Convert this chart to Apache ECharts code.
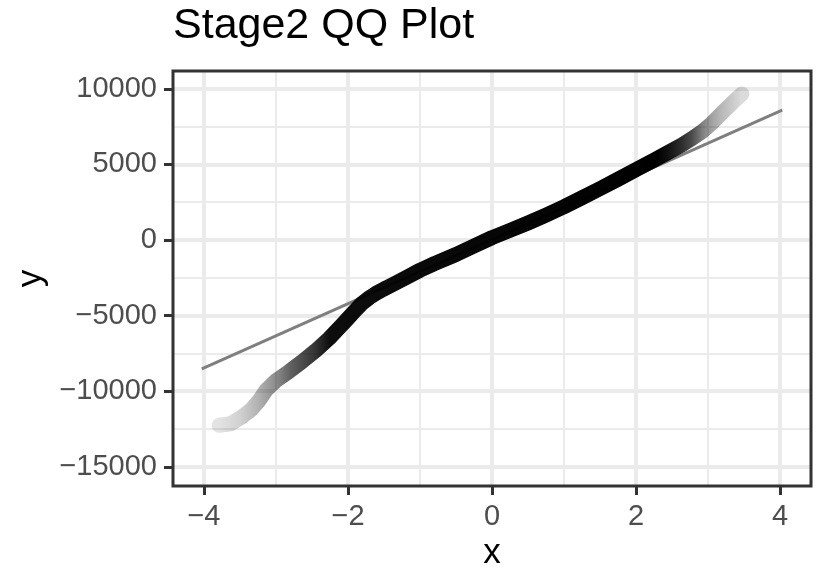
<!DOCTYPE html>
<html>
<head>
<meta charset="utf-8">
<title>Stage2 QQ Plot</title>
<script src="https://cdn.jsdelivr.net/npm/echarts@6/dist/echarts.min.js"></script>
<style>
  html, body { margin: 0; padding: 0; background: #ffffff; }
  #chart { width: 816px; height: 570px; }
</style>
</head>
<body>
<div id="chart"></div>
<script>
// Theoretical normal quantiles and the matching sample quantiles (Stage2 residuals)
const theoretical = [-3.79, -3.63, -3.49, -3.35, -3.24, -3.14, -3.00, -2.82, -2.64, -2.45,
  -2.26, -2.10, -2.00, -1.90, -1.80, -1.70, -1.60, -1.50, -1.40, -1.20,
  -1.00, -0.80, -0.50, -0.25, 0.00, 0.25, 0.50, 0.75, 1.00, 1.25,
  1.50, 1.75, 2.00, 2.25, 2.41, 2.64, 2.78, 2.92, 3.06, 3.19, 3.33, 3.47];
const sample = [-12250, -12150, -11750, -11250, -10650, -9950, -9300, -8700, -8050, -7320,
  -6500, -5700, -5180, -4660, -4170, -3800, -3500, -3240, -3000, -2500,
  -2000, -1560, -960, -400, 160, 640, 1130, 1650, 2200, 2800,
  3400, 4020, 4650, 5280, 5700, 6300, 6720, 7180, 7750, 8380, 9040, 9660];

// Reference line through the quartiles
const refLineX = [-4.03, 4.03];
const refLineY = [-8530, 8600];

// Axis ticks
const xTicks = [-4, -2, 0, 2, 4];
const xMinor = [-3, -1, 1, 3];
const yTicks = [-15000, -10000, -5000, 0, 5000, 10000];
const yMinor = [-12500, -7500, -2500, 2500, 7500];

// How dark the overplotted points look along x (sparse tails are faint)
const shadeX = [-3.8, -3.5, -3.25, -3.0, -2.8, -2.45, -2.25, 2.3, 2.45, 2.64, 2.78, 2.92, 3.06, 3.19, 3.33, 3.47];
const shadeA = [0.11, 0.18, 0.30, 0.45, 0.62, 0.80, 0.95, 1.0, 0.93, 0.82, 0.70, 0.50, 0.36, 0.28, 0.21, 0.14];

const FONT = '"Liberation Sans", Arial, sans-serif';
const fmt = v => (v < 0 ? '\u2212' + Math.abs(v) : String(v));

const chart = echarts.init(document.getElementById('chart'), null, { renderer: 'canvas', width: 816, height: 570 });

const gridLineSeries = (name, xs, ys, width, z) => ({
  name: name,
  type: 'line',
  data: [],
  silent: true,
  z: z,
  markLine: {
    z: z,
    silent: true,
    animation: false,
    symbol: ['none', 'none'],
    label: { show: false },
    emphasis: { disabled: true },
    lineStyle: { color: '#ebebeb', width: width, type: 'solid' },
    data: xs.map(v => ({ xAxis: v })).concat(ys.map(v => ({ yAxis: v })))
  }
});

const option = {
  animation: false,
  backgroundColor: '#ffffff',
  title: {
    text: 'Stage2 QQ Plot',
    left: 173,
    top: 5,
    padding: 0,
    textStyle: { fontFamily: FONT, fontSize: 43, fontWeight: 'normal', color: '#000000' }
  },
  grid: {
    left: 173, top: 71, width: 638, height: 415,
    outerBoundsMode: 'none',
    containLabel: false,
    show: true, borderColor: '#333333', borderWidth: 3,
    backgroundColor: 'transparent', z: 10
  },
  xAxis: {
    type: 'value',
    min: -4.43, max: 4.43,
    axisLine: { show: false, onZero: false },
    splitLine: { show: false },
    axisTick: { show: true, customValues: xTicks, length: 9, lineStyle: { color: '#333333', width: 3 } },
    axisLabel: { customValues: xTicks, formatter: fmt, margin: 16, fontSize: 29, color: '#4d4d4d', fontFamily: FONT },
    name: 'x',
    nameLocation: 'middle',
    nameGap: 50,
    nameTextStyle: { fontSize: 35, color: '#000000', fontFamily: FONT }
  },
  yAxis: {
    type: 'value',
    min: -16270, max: 11180,
    axisLine: { show: false, onZero: false },
    splitLine: { show: false },
    axisTick: { show: true, customValues: yTicks, length: 9, lineStyle: { color: '#333333', width: 3 } },
    axisLabel: { customValues: yTicks, formatter: fmt, margin: 16, fontSize: 29, color: '#4d4d4d', fontFamily: FONT },
    name: 'y',
    nameLocation: 'middle',
    nameGap: 121,
    nameTextStyle: { fontSize: 35, color: '#000000', fontFamily: FONT }
  },
  series: [
    gridLineSeries('minor grid', xMinor, yMinor, 2, 0),
    gridLineSeries('major grid', xTicks, yTicks, 4, 1),
    {
      id: 'qqline',
      name: 'qq line',
      type: 'line',
      z: 2,
      silent: true,
      symbol: 'none',
      data: refLineX.map((x, i) => [x, refLineY[i]]),
      lineStyle: { color: '#7f7f7f', width: 3 }
    },
    {
      id: 'band',
      name: 'sample',
      type: 'line',
      z: 3,
      silent: true,
      symbol: 'none',
      smooth: false,
      data: theoretical.map((x, i) => [x, sample[i]]),
      lineStyle: { color: '#000000', width: 15, cap: 'round', join: 'round' }
    }
  ]
};

chart.setOption(option);

// Shade the point band along x so the sparse tails fade out
const px = shadeX.map(x => chart.convertToPixel({ xAxisIndex: 0 }, x));
const x0 = px[0], x1 = px[px.length - 1];
const stops = px.map((p, i) => ({ offset: (p - x0) / (x1 - x0), color: 'rgba(0,0,0,' + shadeA[i] + ')' }));
chart.setOption({
  series: [{ id: 'band', lineStyle: { color: new echarts.graphic.LinearGradient(x0, 0, x1, 0, stops, true) } }]
});
</script>
</body>
</html>
